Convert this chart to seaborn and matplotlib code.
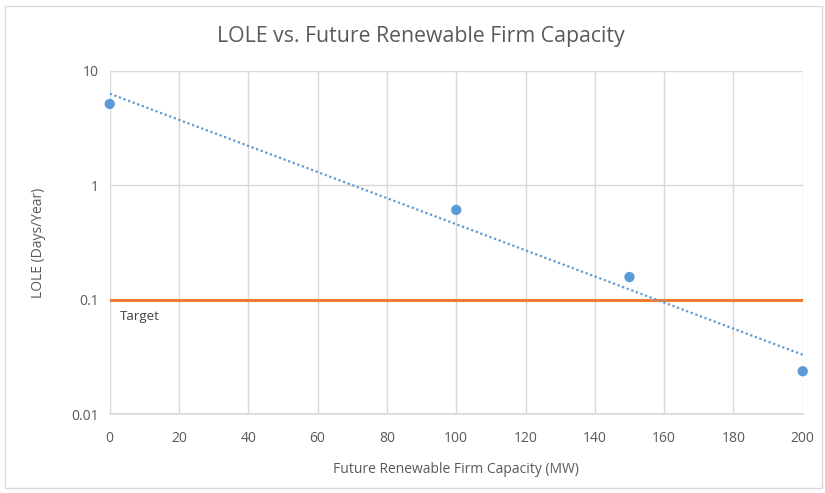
import numpy as np
import pandas as pd
import matplotlib.pyplot as plt
import seaborn as sns
from matplotlib.patches import Rectangle
from matplotlib.ticker import FixedLocator, FixedFormatter, NullLocator

# values
capacity_mw = [0, 100, 150, 200]
lole_days = [5.15, 0.61, 0.158, 0.0237]
target_lole = 0.1
x_ticks = [0, 20, 40, 60, 80, 100, 120, 140, 160, 180, 200]
y_ticks = [0.01, 0.1, 1, 10]
y_tick_labels = ['0.01', '0.1', '1', '10']

df = pd.DataFrame({'capacity': capacity_mw, 'lole': lole_days})

# exponential trendline, like Excel's
slope, icpt = np.polyfit(df['capacity'], np.log10(df['lole']), 1)
trend = pd.DataFrame({'capacity': np.linspace(0, 200, 100)})
trend['lole'] = 10 ** (icpt + slope * trend['capacity'])

sns.set_theme(style='white')
plt.rcParams['font.family'] = ['Open Sans', 'DejaVu Sans']
grey = '#595959'
blue = '#5b9bd5'
orange = '#ed7d31'

fig = plt.figure(figsize=(8.25, 4.93), dpi=100)
ax = fig.add_axes([0.133, 0.160, 0.840, 0.696])

ax.axhline(target_lole, color=orange, lw=2.2, zorder=2)
sns.lineplot(data=trend, x='capacity', y='lole', ax=ax, color=blue,
             lw=1.6, linestyle=(0, (1, 1.2)), zorder=3)
sns.scatterplot(data=df, x='capacity', y='lole', ax=ax, color=blue,
                s=55, edgecolor='none', zorder=4, clip_on=False)

ax.set_yscale('log')
ax.set_xlim(0, 200)
ax.set_ylim(0.01, 10)
ax.xaxis.set_major_locator(FixedLocator(x_ticks))
ax.yaxis.set_major_locator(FixedLocator(y_ticks))
ax.yaxis.set_major_formatter(FixedFormatter(y_tick_labels))
ax.yaxis.set_minor_locator(NullLocator())
ax.grid(True, color='#d9d9d9', lw=1)
ax.set_axisbelow(True)
for side in ['top', 'right', 'left']:
    ax.spines[side].set_visible(False)
ax.spines['bottom'].set_color('#d9d9d9')
ax.tick_params(axis='both', length=0, labelsize=10, labelcolor=grey, pad=8)
ax.tick_params(axis='x', pad=12)

ax.set_xlabel('Future Renewable Firm Capacity (MW)', fontsize=10, color=grey, labelpad=12)
ax.set_ylabel('LOLE (Days/Year)', fontsize=10, color=grey, labelpad=18)
ax.text(3, 0.082, 'Target', fontsize=9.5, color='#404040', va='top', ha='left')

fig.text(0.51, 0.925, 'LOLE vs. Future Renewable Firm Capacity', ha='center',
         va='center', fontsize=15.3, color=grey)

fig.patches.append(Rectangle((0.006, 0.01), 0.99, 0.978, transform=fig.transFigure,
                             fill=False, edgecolor='#d9d9d9', lw=1))

fig.savefig('out.png', dpi=100)
